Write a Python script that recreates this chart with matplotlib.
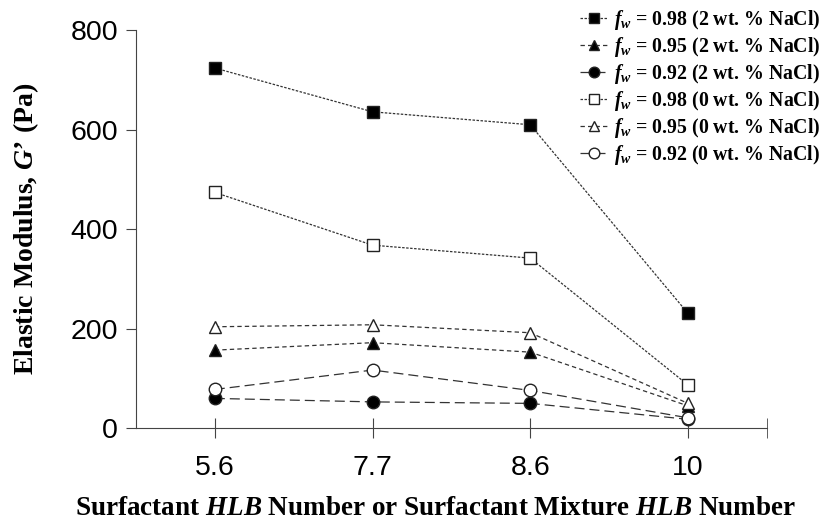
import matplotlib.pyplot as plt

plt.rcParams['mathtext.fontset'] = 'custom'
plt.rcParams['mathtext.rm'] = 'Liberation Serif:bold'
plt.rcParams['mathtext.it'] = 'Liberation Serif:italic:bold'
plt.rcParams['mathtext.bf'] = 'Liberation Serif:bold'

hlb = ["5.6", "7.7", "8.6", "10"]

g_098_salt = [724, 636, 610, 231]
g_095_salt = [157, 172, 153, 45]
g_092_salt = [60, 53, 50, 18]
g_098_nosalt = [474, 368, 342, 87]
g_095_nosalt = [204, 208, 192, 50]
g_092_nosalt = [78, 117, 76, 21]

labels = [r"$f_w$ = 0.98 (2 wt. % NaCl)", r"$f_w$ = 0.95 (2 wt. % NaCl)",
          r"$f_w$ = 0.92 (2 wt. % NaCl)", r"$f_w$ = 0.98 (0 wt. % NaCl)",
          r"$f_w$ = 0.95 (0 wt. % NaCl)", r"$f_w$ = 0.92 (0 wt. % NaCl)"]

fig = plt.figure(figsize=(8.29, 5.21), dpi=100)
ax = fig.add_axes([0.164, 0.178, 0.761, 0.764])

x = range(len(hlb))
dot = (0, (2, 1.2))
dash = (0, (3.5, 2.5))
longdash = (0, (8, 4))
series = [
    (g_098_salt, 's', 'black', dot),
    (g_095_salt, '^', 'black', dash),
    (g_092_salt, 'o', 'black', longdash),
    (g_098_nosalt, 's', 'white', dot),
    (g_095_nosalt, '^', 'white', dash),
    (g_092_nosalt, 'o', 'white', longdash),
]
for (vals, mk, fc, ls), lab in zip(series, labels):
    ax.plot(x, vals, linestyle=ls, color='#333333', lw=0.9, marker=mk,
            markersize=9, markerfacecolor=fc, markeredgecolor='#222222',
            markeredgewidth=1.0, label=lab)

ax.set_xlim(-0.5, 3.5)
ax.set_ylim(0, 800)
ax.set_yticks([0, 200, 400, 600, 800])
ax.set_xticks(list(x))
ax.set_xticklabels(hlb)
ax.set_xticks([3.5], minor=True)
ax.spines['top'].set_visible(False)
ax.spines['right'].set_visible(False)
for s in ['left', 'bottom']:
    ax.spines[s].set_color('#444444')
ax.tick_params(axis='y', direction='out', length=7, color='#444444',
               labelsize=20.5, pad=6)
ax.tick_params(axis='x', which='both', direction='inout', length=14,
               color='#444444', labelsize=20.5, pad=12)
for t in ax.get_xticklabels() + ax.get_yticklabels():
    t.set_fontfamily('Liberation Sans')

ax.set_ylabel("Elastic Modulus, $G$’ (Pa)", fontsize=20, fontweight='bold',
              fontfamily='Liberation Serif', labelpad=21)
ax.set_xlabel("Surfactant $HLB$ Number or Surfactant Mixture $HLB$ Number",
              fontsize=19.5, fontweight='bold', fontfamily='Liberation Serif')
ax.xaxis.set_label_coords(0.474, -0.17)

leg = fig.legend(loc='upper right', bbox_to_anchor=(1.0, 1.0), frameon=False,
                 prop={'family': 'Liberation Serif', 'weight': 'bold', 'size': 14.3},
                 handlelength=1.4, handletextpad=0.35, labelspacing=0.15,
                 borderaxespad=0.0, markerscale=0.85)

fig.savefig("out.png", dpi=100)
